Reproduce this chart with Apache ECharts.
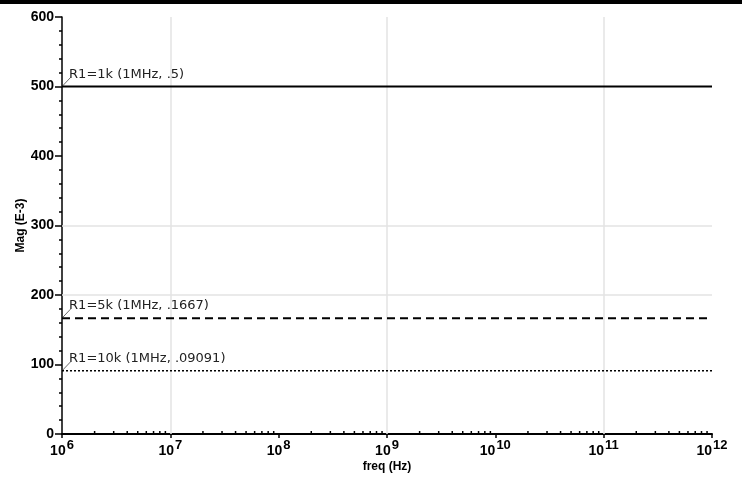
<!DOCTYPE html>
<html>
<head>
<meta charset="utf-8">
<script src="https://cdn.jsdelivr.net/npm/echarts@6/dist/echarts.min.js"></script>
<style>html,body{margin:0;padding:0;background:#fff}#c{width:742px;height:477px}</style>
</head>
<body>
<div id="c"></div>
<script>
// ---- data ----
var freqs = [1e6, 1e7, 1e8, 1e9, 1e10, 1e11, 1e12];
var r1k  = [500, 500, 500, 500, 500, 500, 500];
var r5k  = [166.7, 166.7, 166.7, 166.7, 166.7, 166.7, 166.7];
var r10k = [90.91, 90.91, 90.91, 90.91, 90.91, 90.91, 90.91];
var seriesNames = ['R1=1k', 'R1=5k', 'R1=10k'];
var annotations = ['R1=1k (1MHz, .5)', 'R1=5k (1MHz, .1667)', 'R1=10k (1MHz, .09091)'];
var xGridValues = [1e7, 1e9, 1e11];
var yGridValues = [200, 300];
var yTicks = [0, 100, 200, 300, 400, 500, 600];
var xAxisName = 'freq (Hz)';
var yAxisName = 'Mag (E-3)';

function pairs(vals){ return freqs.map(function(f,i){ return [f, vals[i]]; }); }

// log minor ticks 2..9 per decade
var minorTicks = [];
for (var e = 6; e < 12; e++) for (var m = 2; m <= 9; m++) minorTicks.push([m * Math.pow(10, e), 0]);

var chart = echarts.init(document.getElementById('c'), null, {renderer: 'canvas'});
var fontFam = '"Liberation Sans", Arial, sans-serif';
var annFont = '"DejaVu Sans", sans-serif';

function lineSeries(name, vals, lineType, width, ann) {
  return {
    name: name, type: 'line', data: pairs(vals), symbol: 'none', showSymbol: false,
    lineStyle: {color: '#000', width: width, type: lineType},
    z: 5,
    animation: false,
    markLine: {
      symbol: 'none', silent: true, label: {show: false},
      lineStyle: {color: '#444', width: 0.8, type: 'solid'},
      data: [[{coord: [freqs[0], vals[0]]}, {coord: [freqs[0] * 1.2, vals[0] + 13]}]]
    },
    markPoint: {
      symbol: 'circle', symbolSize: 1,
      itemStyle: {color: 'rgba(0,0,0,0)'},
      silent: true,
      data: [{coord: [freqs[0] * 1.2, vals[0] + 13], value: 0}],
      label: {
        show: true, position: 'right', formatter: ann, distance: 0,
        offset: [-2, -3], color: '#222', fontSize: 13, fontFamily: annFont
      }
    }
  };
}

var option = {
  backgroundColor: '#fff',
  animation: false,
  graphic: [{type: 'rect', left: 0, top: 0, shape: {width: 742, height: 4}, style: {fill: '#000'}}],
  grid: {left: 62, right: 30, top: 17, bottom: 43, containLabel: false, outerBoundsMode: 'none'},
  xAxis: {
    type: 'log', logBase: 10, min: 1e6, max: 1e12,
    name: xAxisName, nameLocation: 'middle', nameGap: 27, nameMoveOverlap: false,
    nameTextStyle: {color: '#000', fontSize: 12, fontWeight: 'bold', fontFamily: fontFam},
    axisLine: {lineStyle: {color: '#000', width: 2}},
    axisTick: {show: true, length: 4, lineStyle: {color: '#000', width: 1.5}},
    splitLine: {show: false},
    axisLabel: {
      color: '#000', margin: 5,
      formatter: function(v){ return '{b|10}{s|' + Math.round(Math.log10(v)) + '}'; },
      rich: {
        b: {fontSize: 14, fontWeight: 'bold', fontFamily: fontFam, color: '#000', verticalAlign: 'bottom'},
        s: {fontSize: 13, fontWeight: 'bold', fontFamily: fontFam, color: '#000', verticalAlign: 'top', padding: [0,0,6,1]}
      }
    }
  },
  yAxis: {
    type: 'value', min: 0, max: 600, interval: 100,
    name: yAxisName, nameLocation: 'middle', nameGap: 35, nameRotate: 90, nameMoveOverlap: false,
    nameTextStyle: {color: '#000', fontSize: 12, fontWeight: 'bold', fontFamily: fontFam},
    axisLine: {show: true, lineStyle: {color: '#000', width: 1.5}},
    axisTick: {show: true, length: 7, lineStyle: {color: '#000', width: 1.5}},
    minorTick: {show: true, splitNumber: 5, length: 3, lineStyle: {color: '#000', width: 1.5}},
    splitLine: {show: false},
    axisLabel: {color: '#000', fontSize: 14, fontWeight: 'bold', fontFamily: fontFam, margin: 8,
      formatter: function(v){ return yTicks.indexOf(v) >= 0 ? String(v) : ''; }}
  },
  series: [
    {
      type: 'line', data: [], silent: true, z: 1,
      markLine: {
        symbol: 'none', silent: true, label: {show: false},
        lineStyle: {color: '#e3e3e3', width: 1.5, type: 'solid'},
        data: xGridValues.map(function(v){ return {xAxis: v}; }).concat(
              yGridValues.map(function(v){ return {yAxis: v}; }))
      }
    },
    {
      type: 'custom', silent: true, z: 6, data: minorTicks,
      renderItem: function(params, api){
        var p = api.coord([api.value(0), api.value(1)]);
        return {type: 'line', shape: {x1: p[0], y1: p[1], x2: p[0], y2: p[1] - 3},
                style: {stroke: '#000', lineWidth: 1.5}};
      }
    },
    lineSeries(seriesNames[0], r1k, 'solid', 2, annotations[0]),
    lineSeries(seriesNames[1], r5k, [8, 5], 2, annotations[1]),
    lineSeries(seriesNames[2], r10k, [2, 2], 1.5, annotations[2])
  ]
};
chart.setOption(option);
</script>
</body>
</html>
